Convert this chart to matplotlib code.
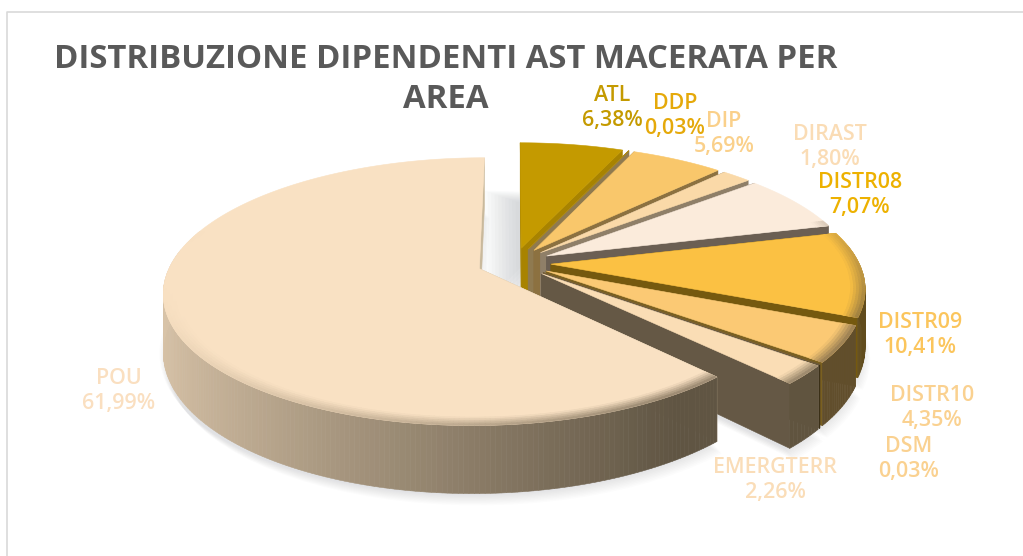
import matplotlib
matplotlib.use("Agg")
import matplotlib.pyplot as plt
import numpy as np

plt.rcParams["font.family"] = ["Open Sans", "DejaVu Sans"]

title = "DISTRIBUZIONE DIPENDENTI AST MACERATA PER\nAREA"
categories = ["ATL", "DDP", "DIP", "DIRAST", "DISTR08", "DISTR09", "DISTR10", "DSM", "EMERGTERR", "POU"]
values = [6.38, 0.03, 5.69, 1.80, 7.07, 10.41, 4.35, 0.03, 2.26, 61.99]

# Colours of the top faces, the cut walls and the labels
faceColors = ["#C49A00", "#B08A10", "#F9C76B", "#FAD9A8", "#FBEBDB", "#FBC143", "#FBC974", "#7A6030", "#FADDB5", "#F9E1C3"]
wallColors = ["#A88300", "#8F7A50", "#8C7140", "#8F7F68", "#6B5F53", "#75590F", "#7A6020", "#655845", "#655845", "#C9B99C"]
labelColors = ["#C49A00", "#E5A90A", "#FAD08A", "#FADCB5", "#EDB100", "#FBC55C", "#FAD190", "#FAD190", "#FADDB8", "#FADFC0"]
labelPos = [(612, 108), (675, 116), (724, 134), (830, 147), (860, 195), (920, 335), (932, 408), (909, 459), (775, 480), (119, 391)]

# Projection of the tilted pie on the picture (pixels)
cx, cy = 514, 263
radiusX, radiusY = 308, 128
perspective = 0.17
explode = 0.12
depth = 56


def project(x, y, drop=0.0):
    """Maps a point of the pie plane to the picture, drop pushes it down the side."""
    w = 1 + perspective * np.asarray(y)
    return cx + radiusX * np.asarray(x) / w, cy - radiusY * np.asarray(y) / w + drop * depth / w


def shade(color, factor, towards=(0, 0, 0)):
    rgb = np.array(matplotlib.colors.to_rgb(color))
    return tuple(rgb * factor + np.array(towards) * (1 - factor))


def poly(ax, xs, ys, color, zorder=2):
    ax.fill(xs, ys, facecolor=color, edgecolor=color, linewidth=0.4, zorder=zorder)


fig = plt.figure(figsize=(10.23, 5.56), dpi=100)
ax = fig.add_axes([0, 0, 1, 1])
ax.set_xlim(0, 1023)
ax.set_ylim(556, 0)
ax.axis("off")

# Card border, only left and top are in the picture
ax.plot([7, 7, 1023], [556, 12, 12], color="#D9D9D9", linewidth=1.2, zorder=1)

# Angles run clockwise from 12 o'clock
edges = np.concatenate([[0], np.cumsum(values)]) / np.sum(values) * 2 * np.pi

# Soft shadow below the whole pie
for i in range(10):
    for idx, (start, end) in enumerate(zip(edges[:-1], edges[1:])):
        mid = (start + end) / 2
        theta = np.linspace(start, end, 60)
        ox, oy = explode * np.sin(mid), explode * np.cos(mid)
        xs = np.concatenate([[ox], ox + np.sin(theta)])
        ys = np.concatenate([[oy], oy + np.cos(theta)])
        px, py = project(xs, ys, 1.0)
        # The first slice throws its shadow to the left, into the gap
        dx = -36 + 3.5 * i if idx == 0 else -4 + i
        alpha = 0.035 if idx == 0 else 0.025
        ax.fill(px + dx, py + 1 + i * 1.2, color="#8A8F96", alpha=alpha, linewidth=0, zorder=1.5)

for idx, (start, end) in enumerate(zip(edges[:-1], edges[1:])):
    mid = (start + end) / 2
    ox, oy = explode * np.sin(mid), explode * np.cos(mid)
    theta = np.linspace(start, end, max(4, int((end - start) * 70)))
    color = faceColors[idx]
    z = 2 + idx * 0.1

    # Cut walls
    for edge in (start, end):
        ex, ey = ox + np.sin(edge), oy + np.cos(edge)
        qx = np.array([ox, ex, ex, ox])
        qy = np.array([oy, ey, ey, oy])
        sx, sy = project(qx, qy, np.array([0, 0, 1, 1]))
        poly(ax, sx, sy, wallColors[idx], z)

    # Outer side, shaded with the direction it faces
    for t0, t1 in zip(theta[:-1], theta[1:]):
        tm = (t0 + t1) / 2
        if np.cos(tm) > 0.15:
            continue
        factor = 0.85 - 0.55 * np.clip((np.sin(tm) + 1) / 1.55, 0, 1)
        sideColor = shade(color, factor, (0.12, 0.1, 0.05))
        qx = ox + np.sin([t0, t1, t1, t0])
        qy = oy + np.cos([t0, t1, t1, t0])
        sx, sy = project(qx, qy, np.array([0, 0, 1, 1]))
        poly(ax, sx, sy, sideColor, z)

    # Top face
    xs = np.concatenate([[ox], ox + np.sin(theta)])
    ys = np.concatenate([[oy], oy + np.cos(theta)])
    px, py = project(xs, ys)
    poly(ax, px, py, color, z)

    # Bevel along the outer edge, darker at the front
    bands = np.linspace(0.955, 1.0, 6)
    for b0, b1, level in zip(bands[:-1], bands[1:], np.linspace(0.1, 0.8, 5)):
        for t0, t1 in zip(theta[:-1], theta[1:]):
            tm = (t0 + t1) / 2
            if np.cos(tm) > 0.3:
                continue
            front = np.clip((np.sin(tm) + 1) / 1.5, 0, 1) * np.clip(-np.cos(tm) + 0.6, 0, 1)
            amount = level * front * 0.75
            rimColor = shade(color, 1 - amount, (0.38, 0.33, 0.25))
            rx = ox + np.array([b0 * np.sin(t0), b1 * np.sin(t0), b1 * np.sin(t1), b0 * np.sin(t1)])
            ry = oy + np.array([b0 * np.cos(t0), b1 * np.cos(t0), b1 * np.cos(t1), b0 * np.cos(t1)])
            sx, sy = project(rx, ry)
            poly(ax, sx, sy, rimColor, z)

ax.text(446, 80, title, ha="center", va="center", fontsize=23.7, fontweight="bold",
        color="#595959", linespacing=1.28, zorder=5)

for name, value, pos, col in zip(categories, values, labelPos, labelColors):
    label = f"{name}\n{value:.2f}%".replace(".", ",")
    ax.text(pos[0], pos[1], label, ha="center", va="center", fontsize=15.4, fontweight="semibold",
            color=col, linespacing=1.25, zorder=5)

fig.savefig("out.png", dpi=100)
